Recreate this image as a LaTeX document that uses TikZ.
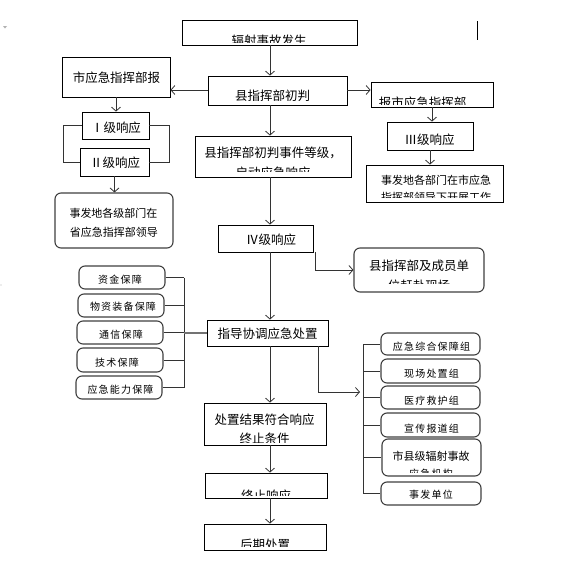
\documentclass[tikz,border=0pt]{standalone}
\usepackage{fontspec}
\setmainfont{Noto Sans CJK SC}
\newfontfamily\smallcjk[LetterSpace=12]{Noto Sans CJK SC}
\usetikzlibrary{arrows.meta,fit}
\tikzset{
  box/.style={draw=black, line width=0.8pt, inner sep=0pt},
  rbox/.style={draw=black!75, line width=1.1pt, rounded corners=6pt, inner sep=0pt},
  big/.style={font=\fontsize{12.5}{14}\selectfont, inner sep=0pt},
  mid/.style={font=\fontsize{11}{13}\selectfont, inner sep=0pt},
  sml/.style={font=\smallcjk\fontsize{10}{12}\selectfont, inner sep=0pt},
  conn/.style={draw=black!80, line width=0.8pt},
  arr/.style={conn, -{Straight Barb[length=4pt,width=9pt]}},
  busline/.style={draw=black!55, line width=1.6pt}
}
\newcommand\cliptext[6]{%
  \begin{scope}\clip (0,0) rectangle (574,#4);
  \node[#6] (#1) at (#2,#3) {#5};\end{scope}}
\begin{document}
\begin{tikzpicture}[x=1pt,y=-1pt]
\useasboundingbox[fill=white] (0,0) rectangle (574,565);
\coordinate (sp) at (270,0);
\coordinate (y90) at (0,90);
\coordinate (bl) at (184,0);
\coordinate (br) at (363,0);
\coordinate (rt) at (360,392);

% main boxes
\node[box, fit={(182,20) (357,45)}] (n1) {};
\cliptext{t1}{269}{40.5}{42.5}{辐射事故发生}{big}
\node[box, fit={(208,76) (347,105)}] (n2) {};
\cliptext{t2}{272.5}{96}{101.5}{县指挥部初判}{big}
\node[box, fit={(62,57) (170,97)}] (n3) {};
\node[big] (t3) at (116.5,78) {市应急指挥部报};
\node[box, fit={(371,82) (493,107)}] (n4) {};
\cliptext{t4}{422.5}{102.5}{104.5}{报市应急指挥部}{big}
\node[box, fit={(82,112) (149,139)}] (n5) {};
\node[big] (t5) at (116,127.5) {Ⅰ级响应};
\node[box, fit={(80,148) (149,176)}] (n6) {};
\node[big] (t6) at (115,163) {Ⅱ级响应};
\node[rbox, fit={(55,193) (173,248)}] (n7) {};
\node[mid] (t7a) at (113.5,213) {事发地各级部门在};
\node[mid] (t7b) at (114,232) {省应急指挥部领导};
\node[box, fit={(195,136) (351,177)}] (n8) {};
\node[big] (t8a) at (273,152.5) {县指挥部初判事件等级，};
\cliptext{t8b}{273}{172.5}{171.5}{启动应急响应}{big}
\node[box, fit={(387,122) (473,150)}] (n9) {};
\node[big] (t9) at (429.5,140) {Ⅲ级响应};
\node[box, fit={(366,165) (503,202)}] (n10) {};
\node[mid] (t10a) at (436,180) {事发地各部门在市应急};
\cliptext{t10b}{436}{197.5}{197.5}{指挥部领导下开展工作}{mid}
\node[box, fit={(218,225) (313,252)}] (n11) {};
\node[big] (t11) at (271,240) {Ⅳ级响应};
\node[rbox, fit={(354,248) (484,292)}] (n12) {};
\node[big] (t12a) at (419,266) {县指挥部及成员单};
\cliptext{t12b}{419}{286}{283.5}{位赶赴现场}{big}

% left support boxes
\node[rbox, fit={(79,266) (165,289)}] (l1) {};
\node[sml] (tl1) at (120,280) {资金保障};
\node[rbox, fit={(78,294) (164,317)}] (l2) {};
\node[sml] (tl2) at (123,307) {物资装备保障};
\node[rbox, fit={(77,321) (163,344)}] (l3) {};
\node[sml] (tl3) at (121,335) {通信保障};
\node[rbox, fit={(77,348) (163,372)}] (l4) {};
\node[sml] (tl4) at (117,363) {技术保障};
\node[rbox, fit={(76,376) (162,399)}] (l5) {};
\node[sml] (tl5) at (120.5,390) {应急能力保障};

\node[box, fit={(207,320) (328,346)}] (n14) {};
\node[big] (t14) at (267.5,334) {指导协调应急处置};

% right group boxes
\node[rbox, fit={(381,333) (480,355)}] (r1) {};
\node[sml] (tr1) at (431.5,346.5) {应急综合保障组};
\node[rbox, fit={(381,359) (480,383)}] (r2) {};
\node[sml] (tr2) at (431.5,373.5) {现场处置组};
\node[rbox, fit={(381,386) (480,409)}] (r3) {};
\node[sml] (tr3) at (431.5,400.5) {医疗救护组};
\node[rbox, fit={(381,413) (480,437)}] (r4) {};
\node[sml] (tr4) at (431.5,428.5) {宣传报道组};
\node[rbox, fit={(382,439) (481,476)}] (r5) {};
\node[mid] (tr5a) at (431,456) {市县级辐射事故};
\cliptext{tr5b}{431}{474}{472}{应急机构}{sml}
\node[rbox, fit={(381,482) (481,505)}] (r6) {};
\node[sml] (tr6) at (431,495) {事发单位};

\node[box, fit={(204,403) (326,445)}] (n16) {};
\node[big] (t16a) at (264.5,420) {处置结果符合响应};
\cliptext{t16b}{264.5}{438.5}{442}{终止条件}{big}
\node[box, fit={(205,473) (327,498)}] (n17) {};
\cliptext{t17}{266}{496}{495.5}{终止响应}{big}
\node[box, fit={(204,524) (326,550)}] (n18) {};
\cliptext{t18}{265}{545}{546.5}{后期处置}{big}

% spine arrows
\draw[arr] (n1.south -| sp) -- (n2.north -| sp);
\draw[arr] (n2.south -| sp) -- (n8.north -| sp);
\draw[arr] (n8.south -| sp) -- (n11.north -| sp);
\draw[arr] (n11.south -| sp) -- (n14.north -| sp);
\draw[arr] (n14.south -| sp) -- (n16.north -| sp);
\draw[arr] (n16.south -| sp) -- (n17.north -| sp);
\draw[arr] (n17.south -| sp) -- (n18.north -| sp);

% side arrows
\draw[arr] (n2.west |- y90) -- (n3.east |- y90);
\draw[arr] (n2.east |- y90) -- (n4.west |- y90);
\draw[arr] (n3.south) -- (n3.south |- n5.north);
\draw[conn] (n5.west) -- ++(-18,0) |- (n6.west);
\draw[conn] (n5.east) -- ++(20,0) |- (n6.east);
\draw[arr] (n6.south) -- (n6.south |- n7.north);
\draw[arr] (n4.south) -- (n4.south |- n9.north);
\draw[arr] (n9.south) -- (n9.south |- n10.north);
\draw[arr] ([xshift=2pt]n11.south east) |- (n12.west);

% left bus
\foreach \b in {l1,l2,l3,l4,l5} \draw[conn] (\b.east) -- (\b.east -| bl);
\draw[conn] (l1.east -| bl) -- (l5.east -| bl);
\draw[busline] (bl |- n14.west) -- (n14.west);

% right bus
\draw[arr] ([xshift=-10pt]n14.south east) |- (rt);
\draw[conn] (r1.west -| br) -- (r6.west -| br);
\foreach \b in {r1,r2,r3,r4,r5,r6} \draw[conn] (\b.west -| br) -- (\b.west);

% stray marks
\draw[line width=0.8pt] (477,21) -- (477,40);
\fill[gray!60] (3,26) -- (7,26) -- (5,28.5) -- cycle;
\fill[gray!60] (1,285) circle (0.6);
\end{tikzpicture}
\end{document}
